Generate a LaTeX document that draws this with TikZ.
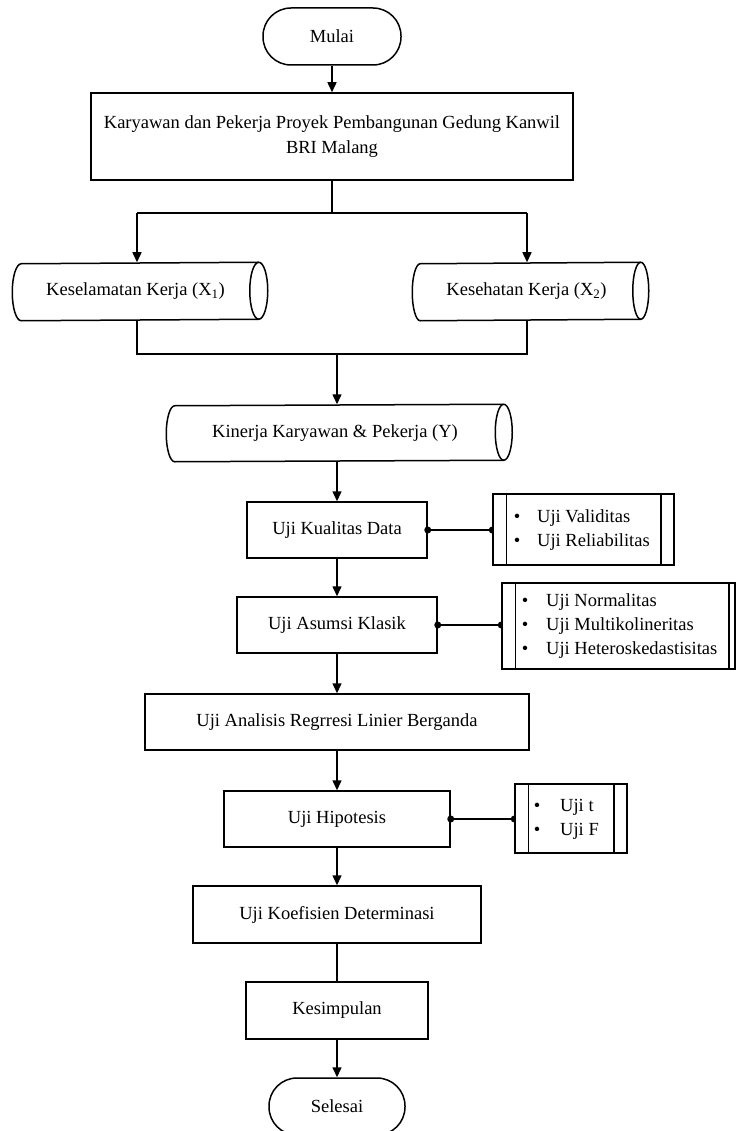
\documentclass[tikz,border=0pt]{standalone}
\usepackage{fontspec}
\setmainfont{Liberation Serif}
\usetikzlibrary{arrows.meta,calc,backgrounds}
\newcommand{\drawcyl}[3]{%
  \draw ($(#1.south west)+(#2,0)$) arc[start angle=270,end angle=90,x radius=#2pt,y radius=#3pt]
    -- (#1.north east) arc[start angle=90,end angle=-90,x radius=#2pt,y radius=#3pt] -- cycle;
  \draw (#1.north east) arc[start angle=90,end angle=270,x radius=#2pt,y radius=#3pt];}
\newcommand{\listbars}[3]{%
  \draw ([xshift=#2pt]#1.north west) -- ([xshift=#2pt]#1.south west);
  \draw ([xshift=-#3pt]#1.north east) -- ([xshift=-#3pt]#1.south east);}
\begin{document}
\begin{tikzpicture}[x=1pt,y=1pt,line width=1.5pt,
  every node/.style={font=\fontsize{18.5}{25}\selectfont},
  box/.style={draw,rectangle,inner sep=0pt,align=center},
  term/.style={draw,rectangle,rounded corners=28pt,inner sep=0pt},
  cylbox/.style={inner sep=0pt},
  lstbox/.style={draw,fill=white,rectangle,inner sep=0pt},
  lsttext/.style={inner sep=0pt,anchor=west,font=\fontsize{18.5}{24}\selectfont},
  flow/.style={-{Triangle[length=10pt,width=9pt]}},
  sidelink/.style={line width=1.5pt},
]
\useasboundingbox (0,0) rectangle (736,-1131);

% main column
\node[term,minimum width=138,minimum height=57] (mulai) at (332,-36.5) {Mulai};
\node[box,minimum width=482,minimum height=87] (kar) at (332,-136.5)
  {Karyawan dan Pekerja Proyek Pembangunan Gedung Kanwil\\BRI Malang};
\node[cylbox,minimum width=245,minimum height=57] (k1) at (135.5,-291.5) {Keselamatan Kerja (X\textsubscript{1})};
\node[cylbox,minimum width=227,minimum height=57] (k2) at (526.5,-291.5) {Kesehatan Kerja (X\textsubscript{2})};
\node[cylbox,minimum width=336,minimum height=56] (kin) at (335,-433) {Kinerja Karyawan \& Pekerja (Y)};
\node[box,minimum width=180,minimum height=56] (kual) at (337,-530) {Uji Kualitas Data};
\node[box,minimum width=200,minimum height=56] (asum) at (337,-625) {Uji Asumsi Klasik};
\node[box,minimum width=384,minimum height=56] (anal) at (337,-722) {Uji Analisis Regrresi Linier Berganda};
\node[box,minimum width=226,minimum height=56] (hipo) at (337,-819) {Uji Hipotesis};
\node[box,minimum width=288,minimum height=57] (koef) at (337,-914.5) {Uji Koefisien Determinasi};
\node[box,minimum width=182,minimum height=57] (kesim) at (337,-1010.5) {Kesimpulan};
\node[term,minimum width=136,minimum height=57] (selesai) at (337,-1106.5) {Selesai};

\drawcyl{k1}{9}{28.5}
\drawcyl{k2}{8}{28.5}
\drawcyl{kin}{8.5}{28}

% side lists
\node[lstbox,minimum width=181,minimum height=71] (val) at (583.5,-529.5) {};
\node[lstbox,minimum width=233,minimum height=86] (norm) at (618.5,-626) {};
\node[lstbox,minimum width=112,minimum height=69] (ujit) at (571,-818.5) {};
\listbars{val}{14}{14}
\listbars{norm}{14}{7}
\listbars{ujit}{14}{14}
\node[lsttext] (valtxt) at (513,-530) {\begin{tabular}{@{}l@{\hspace{17pt}}l@{}}\textbullet & Uji Validitas\\ \textbullet & Uji Reliabilitas\end{tabular}};
\node[lsttext] (normtxt) at (521,-626) {\begin{tabular}{@{}l@{\hspace{18pt}}l@{}}\textbullet & Uji Normalitas\\ \textbullet & Uji Multikolineritas\\ \textbullet & Uji Heteroskedastisitas\end{tabular}};
\node[lsttext] (ttxt) at (533,-818.5) {\begin{tabular}{@{}l@{\hspace{20pt}}l@{}}\textbullet & Uji t\\ \textbullet & Uji F\end{tabular}};

% connectors
\draw[flow] (mulai) -- (kar);
\coordinate (sp) at (332,-213);
\coordinate (spl) at (137,-213);
\coordinate (spr) at (527,-213);
\draw (kar.south) -- (sp);
\draw (spl) -- (spr);
\draw[flow] (spl) -- (spl |- k1.north);
\draw[flow] (spr) -- (spr |- k2.north);
\coordinate (mgl) at (137,-354);
\coordinate (mgr) at (527,-354);
\coordinate (mg) at (337,-354);
\draw (mgl |- k1.south) -- (mgl) -- (mgr) -- (mgr |- k2.south);
\draw[flow] (mg) -- (mg |- kin.north);
\draw[flow] (kin.south -| kual.north) -- (kual.north);
\draw[flow] (kual.south) -- (asum.north);
\draw[flow] (asum.south) -- (anal.north);
\draw[flow] (anal.south) -- (hipo.north);
\draw[flow] (hipo.south) -- (koef.north);
\draw (koef.south) -- (kesim.north);
\draw[flow] (kesim.south) -- (selesai.north);

\begin{scope}[on background layer]
\draw[sidelink] (kual.east) -- (kual.east -| val.west);
\fill (kual.east) circle[radius=3.5pt];
\fill (kual.east -| val.west) circle[radius=3.5pt];
\draw[sidelink] (asum.east) -- (asum.east -| norm.west);
\fill (asum.east) circle[radius=3.5pt];
\fill (asum.east -| norm.west) circle[radius=3.5pt];
\draw[sidelink] (hipo.east) -- (hipo.east -| ujit.west);
\fill (hipo.east) circle[radius=3.5pt];
\fill (hipo.east -| ujit.west) circle[radius=3.5pt];
\end{scope}
\end{tikzpicture}
\end{document}
